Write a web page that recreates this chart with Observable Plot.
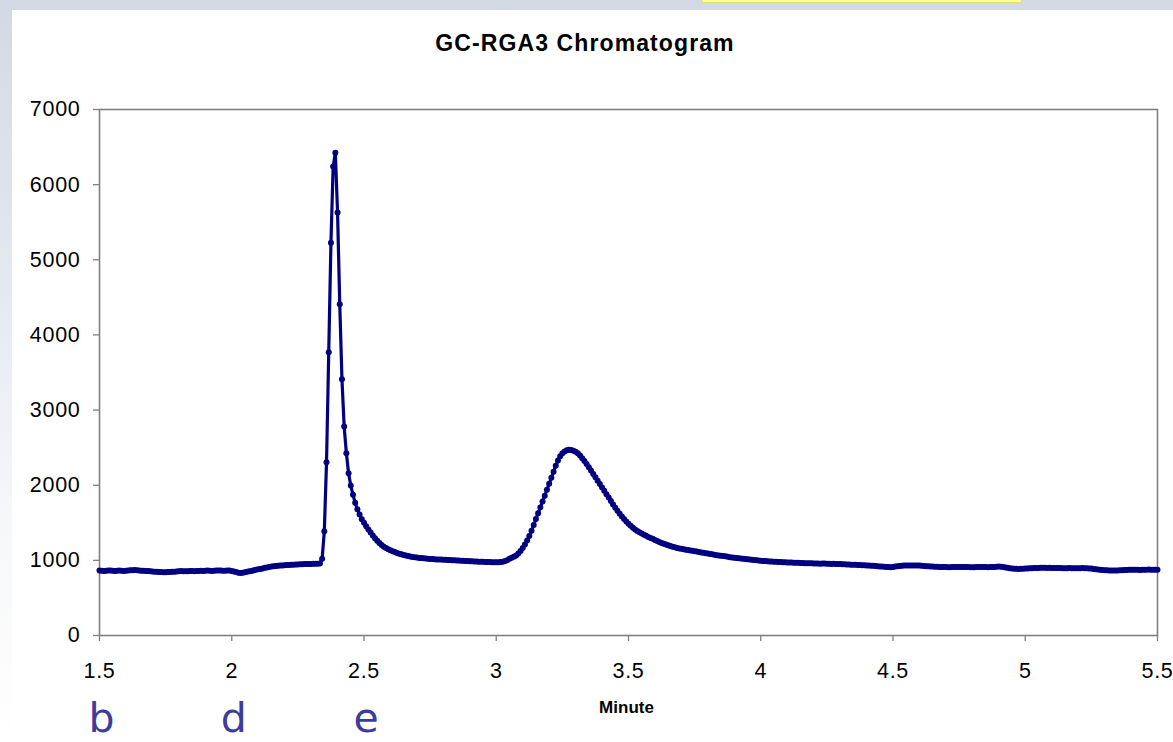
<!DOCTYPE html>
<html>
<head>
<meta charset="utf-8">
<script src="https://cdn.jsdelivr.net/npm/d3@7"></script>
<script src="https://cdn.jsdelivr.net/npm/@observablehq/plot@0.6"></script>
<style>
  html, body { margin: 0; padding: 0; }
  body {
    width: 1173px; height: 742px; overflow: hidden; position: relative;
    background: linear-gradient(180deg, #d3d9e4 0%, #e3e7ee 35%, #f6f7f9 70%, #ffffff 100%);
    font-family: "Liberation Sans", Arial, sans-serif;
  }
  #panel { position: absolute; left: 12px; top: 10px; right: 0; bottom: 0; background: #ffffff; }
  #note { position: absolute; left: 702px; top: 0; width: 318px; height: 2px; background: #ffff99; border: 1px solid #e6dc7a; border-top: none; }
  #title {
    position: absolute; left: 0; width: 1170px; top: 30px; text-align: center;
    font-weight: bold; font-size: 23px; line-height: 26px; color: #000;
    letter-spacing: 1.1px;
  }
  #chart { position: absolute; left: 0; top: 90px; }
  #chart svg { overflow: visible; }
  #chart g[aria-label="x-axis tick label"] text,
  #chart g[aria-label="y-axis tick label"] text { letter-spacing: 0.7px; }
</style>
</head>
<body>
<div id="panel"></div>
<div id="note"></div>
<div id="title">GC-RGA3 Chromatogram</div>
<div id="chart"></div>
<script>
// Sampling: one reading every 1/120 minute, starting at 1.5 minutes
const startMinute = 1.5;
const samplesPerMinute = 120;

// Detector signal (12 readings per 0.1 min row)
const signal = [
  865, 862, 860, 863, 866, 864, 861, 860, 863, 865, 862, 860,        // 1.5
  861, 864, 867, 870, 872, 869, 866, 863, 861, 859, 857, 855,        // 1.6
  853, 850, 848, 846, 845, 843, 842, 844, 846, 848, 850, 852,        // 1.7
  855, 857, 856, 854, 856, 858, 857, 855, 857, 859, 861, 860,        // 1.8
  862, 864, 862, 860, 862, 865, 866, 864, 862, 863, 865, 864,        // 1.9
  860, 852, 844, 836, 833, 835, 841, 848, 854, 860, 867, 874,        // 2.0
  880, 886, 893, 900, 906, 912, 918, 922, 926, 929, 931, 933,        // 2.1
  935, 937, 939, 941, 943, 944, 946, 947, 948, 950, 951, 952,        // 2.2
  953, 954, 955, 956, 958, 1020, 1389, 2306, 3770, 5226, 6241, 6424, // 2.3
  5629, 4409, 3411, 2781, 2426, 2160, 1996, 1872, 1766, 1680, 1610, 1548, // 2.4
  1500, 1455, 1410, 1370, 1330, 1295, 1262, 1232, 1205, 1182, 1163, 1148, // 2.5
  1135, 1122, 1110, 1099, 1089, 1080, 1072, 1065, 1058, 1052, 1046, 1041, // 2.6
  1037, 1033, 1030, 1027, 1024, 1021, 1019, 1017, 1015, 1013, 1012, 1010, // 2.7
  1009, 1008, 1006, 1004, 1003, 1001, 999, 997, 996, 994, 992, 990,  // 2.8
  989, 988, 986, 985, 983, 981, 980, 979, 978, 977, 976, 976,        // 2.9
  975, 976, 978, 982, 990, 1002, 1020, 1034, 1048, 1066, 1090, 1125, // 3.0
  1165, 1210, 1264, 1325, 1395, 1470, 1550, 1628, 1705, 1782, 1860, 1940, // 3.1
  2020, 2100, 2180, 2260, 2330, 2385, 2425, 2450, 2465, 2472, 2470, 2460, // 3.2
  2445, 2425, 2395, 2360, 2322, 2282, 2240, 2196, 2150, 2105, 2060, 2015, // 3.3
  1970, 1925, 1880, 1835, 1790, 1745, 1700, 1660, 1620, 1585, 1550, 1518, // 3.4
  1488, 1460, 1434, 1412, 1392, 1374, 1357, 1341, 1326, 1312, 1299, 1287, // 3.5
  1270, 1257, 1245, 1232, 1220, 1210, 1200, 1191, 1182, 1174, 1166, 1159, // 3.6
  1153, 1148, 1142, 1137, 1132, 1127, 1122, 1117, 1112, 1106, 1100, 1095, // 3.7
  1090, 1085, 1080, 1076, 1068, 1065, 1062, 1058, 1054, 1048, 1043, 1038, // 3.8
  1034, 1030, 1028, 1024, 1022, 1018, 1015, 1011, 1008, 1004, 1002, 998,  // 3.9
  995, 993, 990, 989, 986, 984, 983, 980, 979, 977, 976, 974,        // 4.0
  973, 971, 970, 969, 968, 967, 966, 964, 963, 962, 961, 960,        // 4.1
  959, 958, 957, 956, 958, 957, 955, 954, 953, 954, 953, 951,        // 4.2
  950, 949, 947, 946, 945, 943, 942, 940, 939, 938, 936, 935,        // 4.3
  933, 931, 929, 927, 924, 922, 919, 917, 915, 913, 911, 909,        // 4.4
  912, 917, 921, 925, 928, 930, 932, 933, 932, 931, 932, 933,        // 4.5
  930, 927, 925, 923, 921, 919, 917, 916, 914, 913, 912, 911,        // 4.6
  910, 909, 909, 910, 911, 912, 913, 912, 911, 910, 910, 909,        // 4.7
  908, 909, 910, 911, 912, 911, 910, 909, 910, 911, 913, 915,        // 4.8
  917, 915, 911, 906, 900, 895, 891, 888, 887, 886, 887, 889,        // 4.9
  891, 893, 894, 896, 897, 898, 899, 900, 901, 900, 899, 900,        // 5.0
  899, 898, 897, 898, 897, 896, 895, 896, 897, 896, 895, 894,        // 5.1
  895, 896, 897, 896, 895, 893, 890, 886, 882, 878, 874, 871,        // 5.2
  869, 867, 866, 865, 864, 865, 866, 868, 870, 872, 873, 874,        // 5.3
  875, 876, 875, 874, 873, 874, 875, 876, 877, 876, 875, 874,        // 5.4
  874                                                                // 5.5
];

const xTicks = [1.5, 2, 2.5, 3, 3.5, 4, 4.5, 5, 5.5];
const yTicks = [0, 1000, 2000, 3000, 4000, 5000, 6000, 7000];
const markerLabels = ["b", "d", "e"];
const markerMinutes = [1.5, 2, 2.5];
const xLabel = "Minute";

const points = signal.map((v, i) => ({minute: startMinute + i / samplesPerMinute, value: v}));
const markers = markerLabels.map((t, i) => ({label: t, minute: markerMinutes[i]}));

const navy = "#000080";
const grey = "#808080";

const chart = Plot.plot({
  width: 1173,
  height: 652,
  marginLeft: 99,
  marginRight: 16,
  marginTop: 19,
  marginBottom: 107,
  style: {fontFamily: '"Liberation Sans", Arial, sans-serif', fontSize: "21px", color: "#000", background: "transparent", overflow: "visible"},
  x: {domain: [1.5, 5.5]},
  y: {domain: [0, 7000]},
  marks: [
    Plot.axisX({ticks: xTicks, tickFormat: d => String(d), tickSize: 6, tickPadding: 21, stroke: grey, strokeWidth: 1.3, fill: "#000", fontSize: 21.5, label: null}),
    Plot.axisY({ticks: yTicks, tickFormat: d => String(d), tickSize: 6, tickPadding: 13, stroke: grey, strokeWidth: 1.3, fill: "#000", fontSize: 21.5, label: null}),
    Plot.frame({stroke: grey, strokeWidth: 1.6}),
    Plot.line(points, {x: "minute", y: "value", stroke: navy, strokeWidth: 3.2}),
    Plot.dot(points, {x: "minute", y: "value", r: 3, fill: navy, stroke: "none"}),
    Plot.text([xLabel], {frameAnchor: "bottom", text: d => d, dy: 77, lineAnchor: "bottom", fontWeight: "bold", fontSize: 17, fill: "#000", dx: -2}),
    Plot.text(markers, {x: "minute", text: "label", frameAnchor: "bottom", dy: 96, lineAnchor: "bottom", fontSize: 41, fontFamily: '"DejaVu Sans", Verdana, sans-serif', fill: "#3c3c9c", dx: 2})
  ]
});
document.getElementById("chart").appendChild(chart);
</script>
</body>
</html>
